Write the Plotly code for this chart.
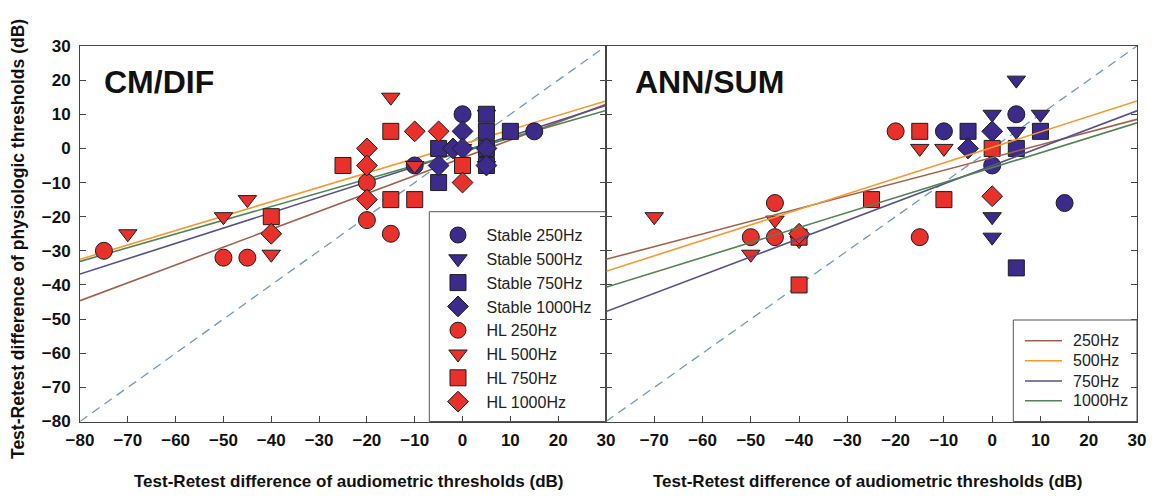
import plotly.graph_objects as go

# the page body adds an 8px margin, so the figure is drawn 8px smaller and
# every layout position below is given in window pixels and shifted by OFF
OFF = 8
W, H = 1160 - OFF, 498 - OFF
FONT = "Liberation Sans, Arial, sans-serif"

# ---------------- data ----------------
freq_labels = ["250Hz", "500Hz", "750Hz", "1000Hz"]
tick_vals_left = [-80, -70, -60, -50, -40, -30, -20, -10, 0, 10, 20, 30]
tick_vals_right = [-70, -60, -50, -40, -30, -20, -10, 0, 10, 20, 30]
tick_vals_y = [-80, -70, -60, -50, -40, -30, -20, -10, 0, 10, 20, 30]

# CM/DIF panel
cm_stable_250_x = [0, 15, -10]
cm_stable_250_y = [10, 5, -5]
cm_stable_500_x = [5, 5, 0]
cm_stable_500_y = [10, -5, 0]
cm_stable_750_x = [5, 5, 5, 10, -5, -5, 5]
cm_stable_750_y = [10, 5, 0, 5, 0, -10, -5]
cm_stable_1000_x = [0, -2, 0, 5, -5, 5]
cm_stable_1000_y = [5, 0, 0, 0, -5, -5]
cm_hl_250_x = [-75, -50, -45, -20, -20, -15]
cm_hl_250_y = [-30, -32, -32, -10, -21, -25]
cm_hl_500_x = [-70, -50, -45, -40, -15, -10]
cm_hl_500_y = [-25, -20, -15, -31, 15, -5]
cm_hl_750_x = [-40, -25, -15, -15, -10, 0]
cm_hl_750_y = [-20, -5, 5, -15, -15, -5]
cm_hl_1000_x = [-40, -20, -20, -20, -10, -5, 0]
cm_hl_1000_y = [-25, 0, -5, -15, 5, 5, -10]

# ANN/SUM panel
as_stable_250_x = [5, -10, 0, 15]
as_stable_250_y = [10, 5, -5, -16]
as_stable_500_x = [5, 0, 10, 5, 0, 0]
as_stable_500_y = [20, 10, 10, 5, -20, -26]
as_stable_750_x = [-5, 10, 5, 5]
as_stable_750_y = [5, 5, 0, -35]
as_stable_1000_x = [0, -5]
as_stable_1000_y = [5, 0]
as_hl_250_x = [-20, -45, -50, -45, -15]
as_hl_250_y = [5, -16, -26, -26, -26]
as_hl_500_x = [-70, -15, -10, -45, -50, -40]
as_hl_500_y = [-20, 0, 0, -21, -31, -27]
as_hl_750_x = [-15, 0, -10, -25, -40, -40]
as_hl_750_y = [5, 0, -15, -15, -26, -40]
as_hl_1000_x = [0, -40]
as_hl_1000_y = [-14, -25]

# regression lines (values at x = -80 and x = 30)
line_x = [-80, 30]
cm_fit_250 = [-44.6, 12.9]
cm_fit_500 = [-32.5, 13.9]
cm_fit_750 = [-36.8, 12.6]
cm_fit_1000 = [-33.1, 11.1]
as_fit_250 = [-32.5, 8.5]
as_fit_500 = [-36.0, 13.9]
as_fit_750 = [-47.8, 11.0]
as_fit_1000 = [-40.7, 7.5]
identity_line = [-80, 30]

# ---------------- styles ----------------
BLUE = "#3d2b8c"
RED = "#e8312b"
EDGE = "#1e1e1e"
line_colors = ["#a2604c", "#f7982f", "#56518a", "#508553"]
DASH_COLOR = "#6b9cbd"
symbols = ["circle", "triangle-down", "square", "diamond"]
sizes = [17, 16, 16, 16]

fig = go.Figure()


def px_x(p):
    return (p - OFF) / W


def px_y(p):
    return (H - (p - OFF)) / H


def add_identity(xa, ya):
    fig.add_trace(go.Scatter(x=identity_line, y=identity_line, mode="lines",
                             line=dict(color=DASH_COLOR, width=1.3, dash="9px,6px"),
                             xaxis=xa, yaxis=ya, showlegend=False, hoverinfo="skip"))


def add_fits(fits, xa, ya):
    for fy, col in zip(fits, line_colors):
        fig.add_trace(go.Scatter(x=line_x, y=fy, mode="lines",
                                 line=dict(color=col, width=1.6),
                                 xaxis=xa, yaxis=ya, showlegend=False, hoverinfo="skip"))


def add_markers(groups, xa, ya, show):
    names = ["Stable 250Hz", "Stable 500Hz", "Stable 750Hz", "Stable 1000Hz",
             "HL 250Hz", "HL 500Hz", "HL 750Hz", "HL 1000Hz"]
    for i, (gx, gy) in enumerate(groups):
        col = BLUE if i < 4 else RED
        fig.add_trace(go.Scatter(
            x=gx, y=gy, mode="markers", name=names[i],
            marker=dict(symbol=symbols[i % 4], size=sizes[i % 4], color=col,
                        line=dict(color=EDGE, width=1)),
            xaxis=xa, yaxis=ya, showlegend=show, legendgroup=names[i]))


cm_groups = [(cm_stable_250_x, cm_stable_250_y), (cm_stable_500_x, cm_stable_500_y),
             (cm_stable_750_x, cm_stable_750_y), (cm_stable_1000_x, cm_stable_1000_y),
             (cm_hl_250_x, cm_hl_250_y), (cm_hl_500_x, cm_hl_500_y),
             (cm_hl_750_x, cm_hl_750_y), (cm_hl_1000_x, cm_hl_1000_y)]
as_groups = [(as_stable_250_x, as_stable_250_y), (as_stable_500_x, as_stable_500_y),
             (as_stable_750_x, as_stable_750_y), (as_stable_1000_x, as_stable_1000_y),
             (as_hl_250_x, as_hl_250_y), (as_hl_500_x, as_hl_500_y),
             (as_hl_750_x, as_hl_750_y), (as_hl_1000_x, as_hl_1000_y)]

# left panel: dashed, fits, markers
add_identity("x", "y")
add_fits([cm_fit_250, cm_fit_500, cm_fit_750, cm_fit_1000], "x", "y")
add_markers(cm_groups, "x", "y", True)
# right panel: dashed, markers, fits
add_identity("x2", "y2")
add_markers(as_groups, "x2", "y2", False)
add_fits([as_fit_250, as_fit_500, as_fit_750, as_fit_1000], "x2", "y2")

AX_COL = "#444444"
tickfont = dict(family=FONT, size=17, color="#111111", weight="bold")
y_dom = [px_y(421.5), px_y(46)]

common_x = dict(range=[-80, 30], showgrid=False, zeroline=False, showline=True,
                linecolor=AX_COL, linewidth=1, mirror=True, ticks="inside",
                ticklen=6, tickcolor=AX_COL, tickfont=tickfont, ticklabelstandoff=3,
                automargin=False)
common_y = dict(range=[-80, 30], showgrid=False, zeroline=False, showline=True,
                linecolor=AX_COL, linewidth=1, mirror="ticks", ticks="inside",
                ticklen=6, tickcolor=AX_COL, tickfont=tickfont, tickvals=tick_vals_y,
                domain=y_dom, automargin=False)

fig.update_layout(
    width=W, height=H,
    margin=dict(l=0, r=0, t=0, b=0, autoexpand=False),
    paper_bgcolor="white", plot_bgcolor="white",
    font=dict(family=FONT, color="#111111"),
    xaxis=dict(common_x, domain=[px_x(80), px_x(606)], tickvals=tick_vals_left,
               anchor="y"),
    yaxis=dict(common_y, anchor="x", ticklabelstandoff=5),
    xaxis2=dict(common_x, domain=[px_x(606), px_x(1137)], tickvals=tick_vals_right,
                anchor="y2"),
    yaxis2=dict(common_y, anchor="x2", showticklabels=False),
    legend=dict(x=px_x(429.5), y=px_y(218.1), xanchor="left", yanchor="top",
                bgcolor="rgba(0,0,0,0)", borderwidth=0, itemwidth=47,
                traceorder="normal", font=dict(family=FONT, size=16, color="#222222")),
    showlegend=True,
)

# legend box of markers
shapes = [dict(type="rect", xref="paper", yref="paper",
               x0=px_x(429.3), x1=px_x(606), y0=px_y(421.5), y1=px_y(211.7),
               line=dict(color="#555555", width=1), fillcolor="rgba(0,0,0,0)",
               layer="above")]
# legend box of regression lines
shapes.append(dict(type="rect", xref="paper", yref="paper",
                   x0=px_x(1013.3), x1=px_x(1137), y0=px_y(421.5), y1=px_y(320),
                   line=dict(color="#555555", width=1), fillcolor="rgba(0,0,0,0)",
                   layer="above"))
annotations = []
row_y = [340.7, 360.7, 381, 400.7]
for lab, col, ry in zip(freq_labels, line_colors, row_y):
    shapes.append(dict(type="line", xref="paper", yref="paper",
                       x0=px_x(1025), x1=px_x(1062), y0=px_y(ry), y1=px_y(ry),
                       line=dict(color=col, width=1.6)))
    annotations.append(dict(text=lab, xref="paper", yref="paper", x=px_x(1071),
                            y=px_y(ry), xanchor="left", yanchor="middle",
                            showarrow=False,
                            font=dict(family=FONT, size=16, color="#222222")))

# panel titles
annotations.append(dict(text="CM/DIF", xref="paper", yref="paper", x=px_x(102),
                        y=px_y(82), xanchor="left", yanchor="middle", showarrow=False,
                        font=dict(family=FONT, size=32, color="#111111", weight="bold")))
annotations.append(dict(text="ANN/SUM", xref="paper", yref="paper", x=px_x(633),
                        y=px_y(82), xanchor="left", yanchor="middle", showarrow=False,
                        font=dict(family=FONT, size=32, color="#111111", weight="bold")))
# axis titles
xt = "Test-Retest difference of audiometric thresholds (dB)"
for cx in [px_x(348), px_x(867)]:
    annotations.append(dict(text=xt, xref="paper", yref="paper", x=cx, y=px_y(481),
                            xanchor="center", yanchor="middle", showarrow=False,
                            font=dict(family=FONT, size=17, color="#111111",
                                      weight="bold")))
annotations.append(dict(text="Test-Retest difference of physiologic thresholds (dB)",
                        xref="paper", yref="paper", x=px_x(18), y=px_y(239),
                        xanchor="center", yanchor="middle", textangle=-90,
                        showarrow=False,
                        font=dict(family=FONT, size=17.5, color="#111111",
                                  weight="bold")))

fig.update_layout(shapes=shapes, annotations=annotations)
fig.write_html("out.html")
